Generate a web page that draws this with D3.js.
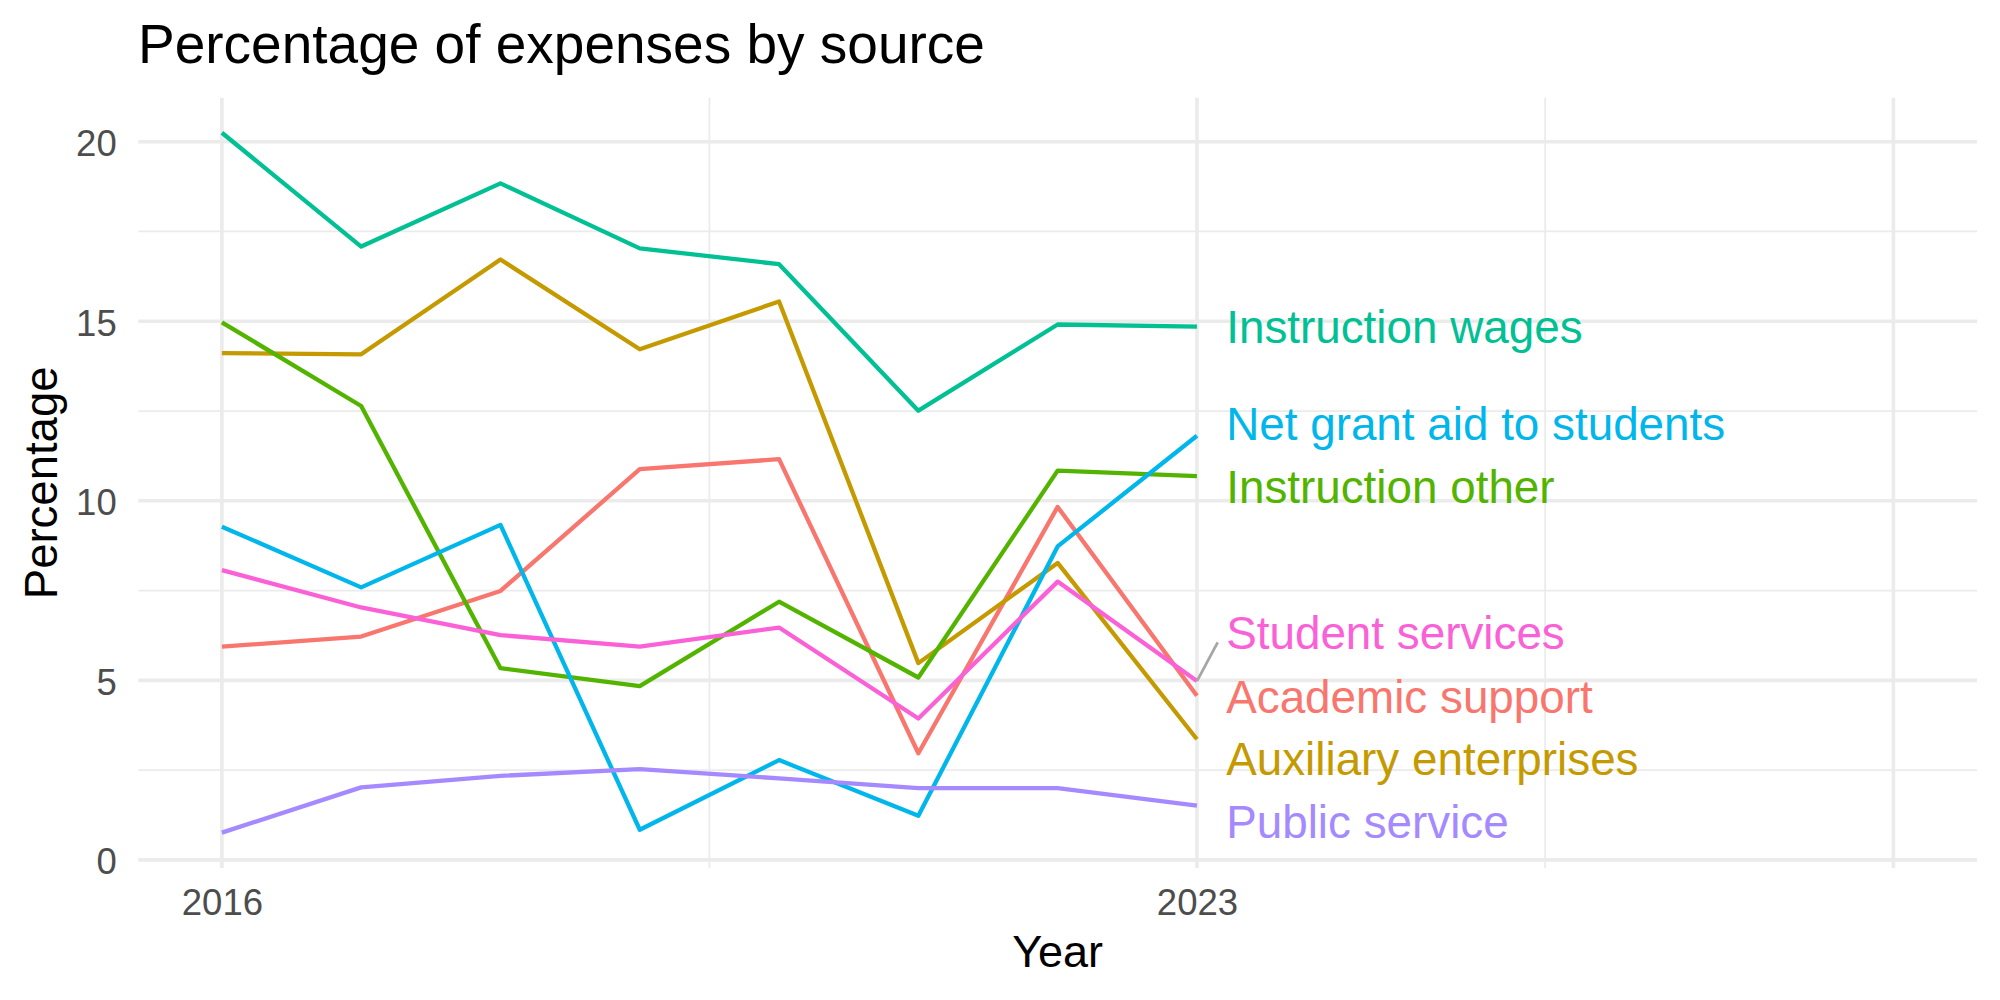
<!DOCTYPE html>
<html>
<head>
  <meta charset="utf-8">
  <title>Percentage of expenses by source</title>
  <script src="https://d3js.org/d3.v7.min.js"></script>
  <style>
    body { margin: 0; background: #fff; }
    text { font-family: "Liberation Sans", Arial, sans-serif; }
  </style>
</head>
<body>
<div id="chart"></div>
<script>
// data
var years = [2016, 2017, 2018, 2019, 2020, 2021, 2022, 2023];
var academicSupport      = [5.94, 6.22, 7.49, 10.88, 11.16, 2.97, 9.83, 4.57];
var auxiliaryEnterprises = [14.11, 14.08, 16.72, 14.22, 15.55, 5.48, 8.27, 3.36];
var instructionOther     = [14.97, 12.64, 5.34, 4.84, 7.19, 5.08, 10.84, 10.69];
var instructionWages     = [20.25, 17.08, 18.84, 17.03, 16.59, 12.51, 14.91, 14.85];
var netGrantAid          = [9.28, 7.59, 9.33, 0.84, 2.78, 1.23, 8.73, 11.81];
var publicService        = [0.76, 2.02, 2.34, 2.53, 2.27, 2.00, 2.00, 1.51];
var studentServices      = [8.07, 7.03, 6.26, 5.94, 6.47, 3.94, 7.75, 4.98];

var seriesNames = ["Academic support", "Auxiliary enterprises", "Instruction other",
  "Instruction wages", "Net grant aid to students", "Public service", "Student services"];
var seriesValues = [academicSupport, auxiliaryEnterprises, instructionOther,
  instructionWages, netGrantAid, publicService, studentServices];
var seriesColors = ["#F8766D", "#C49A00", "#53B400", "#00C094", "#00B6EB", "#A58AFF", "#FB61D7"];

// where the repelled labels ended up (percentage units), same order as seriesNames
var labelY = [4.56, 2.81, 10.39, 14.85, 12.15, 1.06, 6.32];
var labelX = 2023.21;

var xTicks = [2016, 2023, 2028];
var xTickLabels = ["2016", "2023", ""];
var xMinor = [2019.5, 2025.5];
var yTicks = [0, 5, 10, 15, 20];
var yMinor = [2.5, 7.5, 12.5, 17.5];

var W = 2000, H = 1000;
var panel = { left: 138.3, right: 1977, top: 97.7, bottom: 868 };

var svg = d3.select("#chart").append("svg")
  .attr("width", W).attr("height", H);

var x = d3.scaleLinear().domain([2015.4, 2028.6]).range([panel.left, panel.right]);
var y = d3.scaleLinear().domain([-0.225, 21.225]).range([panel.bottom, panel.top]);

// grid
var grid = svg.append("g").attr("stroke", "#EBEBEB");
grid.selectAll(".hmin").data(yMinor).enter().append("line")
  .attr("x1", panel.left).attr("x2", panel.right)
  .attr("y1", function (d) { return y(d); }).attr("y2", function (d) { return y(d); })
  .attr("stroke-width", 1.8);
grid.selectAll(".vmin").data(xMinor).enter().append("line")
  .attr("y1", panel.top).attr("y2", panel.bottom)
  .attr("x1", function (d) { return x(d); }).attr("x2", function (d) { return x(d); })
  .attr("stroke-width", 1.8);
grid.selectAll(".hmaj").data(yTicks).enter().append("line")
  .attr("x1", panel.left).attr("x2", panel.right)
  .attr("y1", function (d) { return y(d); }).attr("y2", function (d) { return y(d); })
  .attr("stroke-width", 3.6);
grid.selectAll(".vmaj").data(xTicks).enter().append("line")
  .attr("y1", panel.top).attr("y2", panel.bottom)
  .attr("x1", function (d) { return x(d); }).attr("x2", function (d) { return x(d); })
  .attr("stroke-width", 3.6);

// axes
var xAxis = svg.append("g")
  .attr("transform", "translate(0," + panel.bottom + ")")
  .call(d3.axisBottom(x).tickValues(xTicks).tickSize(0).tickPadding(21)
    .tickFormat(function (d, i) { return xTickLabels[i]; }));
xAxis.select(".domain").remove();
xAxis.selectAll("text").attr("font-size", 36.5).attr("fill", "#4D4D4D")
  .attr("font-family", "Liberation Sans, Arial, sans-serif");

var yAxis = svg.append("g")
  .attr("transform", "translate(" + panel.left + ",0)")
  .call(d3.axisLeft(y).tickValues(yTicks).tickSize(0).tickPadding(21.6));
yAxis.select(".domain").remove();
yAxis.selectAll("text").attr("font-size", 36.5).attr("fill", "#4D4D4D").attr("dy", "0.38em")
  .attr("font-family", "Liberation Sans, Arial, sans-serif");

// lines
var line = d3.line()
  .x(function (d, i) { return x(years[i]); })
  .y(function (d) { return y(d); });

svg.append("g").selectAll("path")
  .data(seriesValues)
  .enter().append("path")
  .attr("d", line)
  .attr("fill", "none")
  .attr("stroke", function (d, i) { return seriesColors[i]; })
  .attr("stroke-width", 4.3)
  .attr("stroke-linejoin", "round");

// connector for the one label that got pushed away from its point
var si = seriesNames.indexOf("Student services");
svg.append("line")
  .attr("x1", x(years[years.length - 1]))
  .attr("y1", y(studentServices[studentServices.length - 1]))
  .attr("x2", x(labelX) - 8.5)
  .attr("y2", y(labelY[si]) + 9.5)
  .attr("stroke", "#A6A6A6")
  .attr("stroke-width", 2.8);

// end labels
svg.append("g").selectAll("text")
  .data(seriesNames)
  .enter().append("text")
  .attr("x", x(labelX))
  .attr("y", function (d, i) { return y(labelY[i]); })
  .attr("dy", "0.36em")
  .attr("font-size", 45.8)
  .attr("fill", function (d, i) { return seriesColors[i]; })
  .text(function (d) { return d; });

// titles
svg.append("text")
  .attr("x", 138).attr("y", 63)
  .attr("font-size", 55)
  .attr("fill", "#000")
  .text("Percentage of expenses by source");

svg.append("text")
  .attr("x", (panel.left + panel.right) / 2).attr("y", 967)
  .attr("text-anchor", "middle")
  .attr("font-size", 45)
  .text("Year");

svg.append("text")
  .attr("transform", "translate(56.7," + (panel.top + panel.bottom) / 2 + ") rotate(-90)")
  .attr("text-anchor", "middle")
  .attr("font-size", 45.5)
  .text("Percentage");
</script>
</body>
</html>
